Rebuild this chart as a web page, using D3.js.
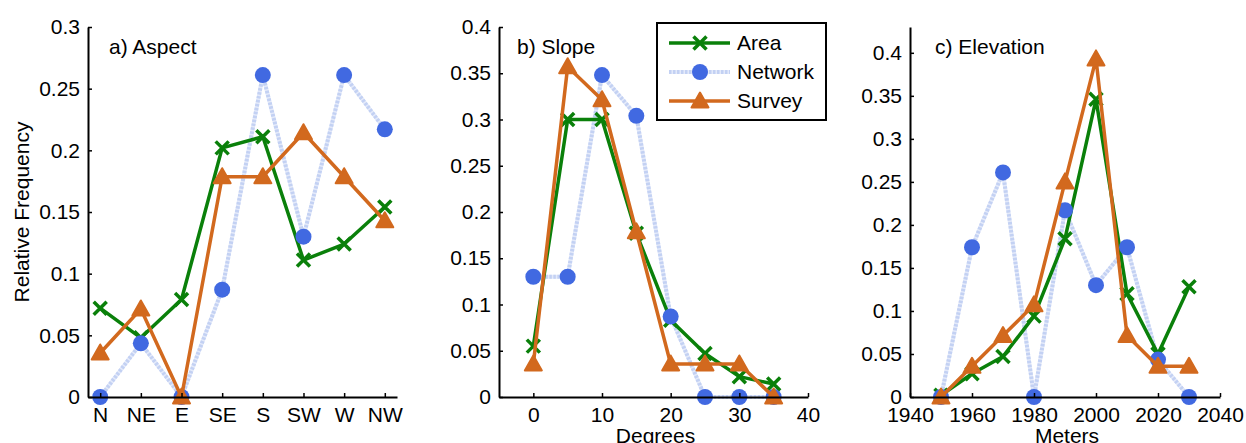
<!DOCTYPE html>
<html>
<head>
<meta charset="utf-8">
<script src="https://cdn.jsdelivr.net/npm/d3@7"></script>
<style>
  html, body { margin: 0; padding: 0; background: #fff; }
  svg { display: block; font-family: "Liberation Sans", Arial, Helvetica, sans-serif; }
</style>
</head>
<body>
<svg id="chart" width="1246" height="443"></svg>
<script>
// ---- Aspect ----
const aspectLabels  = ["N", "NE", "E", "SE", "S", "SW", "W", "NW"];
const aspectArea    = [0.072, 0.048, 0.079, 0.202, 0.211, 0.111, 0.124, 0.154];
const aspectNetwork = [0, 0.0435, 0, 0.087, 0.261, 0.130, 0.261, 0.217];
const aspectSurvey  = [0.0357, 0.0714, 0, 0.1786, 0.1786, 0.2143, 0.1786, 0.1429];
const aspectYTicks  = [0, 0.05, 0.1, 0.15, 0.2, 0.25, 0.3];

// ---- Slope ----
const slopeDegrees  = [0, 5, 10, 15, 20, 25, 30, 35];
const slopeArea     = [0.055, 0.300, 0.300, 0.177, 0.083, 0.047, 0.022, 0.014];
const slopeNetwork  = [0.130, 0.130, 0.348, 0.304, 0.087, 0, 0, 0];
const slopeSurvey   = [0.0357, 0.3571, 0.3214, 0.1786, 0.0357, 0.0357, 0.0357, 0];
const slopeXTicks   = [0, 10, 20, 30, 40];
const slopeYTicks   = [0, 0.05, 0.1, 0.15, 0.2, 0.25, 0.3, 0.35, 0.4];

// ---- Elevation ----
const elevMeters    = [1950, 1960, 1970, 1980, 1990, 2000, 2010, 2020, 2030];
const elevArea      = [0.002, 0.027, 0.047, 0.094, 0.184, 0.346, 0.120, 0.050, 0.128];
const elevNetwork   = [0, 0.174, 0.261, 0, 0.217, 0.130, 0.174, 0.0435, 0];
const elevSurvey    = [0, 0.0357, 0.0714, 0.1071, 0.25, 0.3929, 0.0714, 0.0357, 0.0357];
const elevXTicks    = [1940, 1960, 1980, 2000, 2020, 2040];
const elevYTicks    = [0, 0.05, 0.1, 0.15, 0.2, 0.25, 0.3, 0.35, 0.4];

const seriesNames = ["Area", "Network", "Survey"];

const COLORS = {
  area: "#0a800a", network: "#4169e1",
  networkLine: "#c3d1f3", networkLineBase: "#e4eafa", survey: "#d2691e"
};
const FONT = 21;
const LINE_W = 3.5;

const svg = d3.select("#chart");
svg.append("rect").attr("width", 1246).attr("height", 443).attr("fill", "#fff");

const fmtY = d => d === 0 ? "0" : String(+d.toFixed(2));

// marker shapes
function drawCross(g, x, y) {
  const s = 6.5;
  g.append("path")
    .attr("d", `M${x - s},${y - s}L${x + s},${y + s}M${x - s},${y + s}L${x + s},${y - s}`)
    .attr("stroke", COLORS.area).attr("stroke-width", 3.5).attr("fill", "none");
}
function drawCircle(g, x, y) {
  g.append("circle").attr("cx", x).attr("cy", y).attr("r", 8).attr("fill", COLORS.network);
}
function drawTriangle(g, x, y) {
  g.append("path")
    .attr("d", `M${x},${y - 8.5}L${x + 8.5},${y + 6.5}L${x - 8.5},${y + 6.5}Z`)
    .attr("fill", COLORS.survey).attr("stroke", COLORS.survey)
    .attr("stroke-width", 2).attr("stroke-linejoin", "round");
}
// textured light dashed stroke used for the Network series
function styleNetworkLine(sel, base) {
  if (base) {
    sel.attr("stroke", COLORS.networkLineBase).attr("stroke-width", 4);
  } else {
    sel.attr("stroke", COLORS.networkLine).attr("stroke-width", 4).attr("stroke-dasharray", "2.5,1.5");
  }
}

function panel(opts) {
  const { left, right, top, bottom, xDomain, yDomain, xs, area, network, survey,
          xTicks, xTickFormat, yTicks, title, titleX, xLabel, yLabel } = opts;
  const x = d3.scaleLinear().domain(xDomain).range([left, right]);
  const y = d3.scaleLinear().domain(yDomain).range([bottom, top]);
  const g = svg.append("g");

  const line = d3.line().x((d, i) => x(xs[i])).y(d => y(d));

  // network line underneath
  g.append("path").datum(network).attr("d", line).attr("fill", "none").call(styleNetworkLine, true);
  g.append("path").datum(network).attr("d", line).attr("fill", "none").call(styleNetworkLine, false);
  // area
  g.append("path").datum(area).attr("d", line)
    .attr("fill", "none").attr("stroke", COLORS.area).attr("stroke-width", LINE_W)
    .attr("stroke-linejoin", "round");
  area.forEach((v, i) => drawCross(g, x(xs[i]), y(v)));
  network.forEach((v, i) => drawCircle(g, x(xs[i]), y(v)));
  // survey on top
  g.append("path").datum(survey).attr("d", line)
    .attr("fill", "none").attr("stroke", COLORS.survey).attr("stroke-width", LINE_W)
    .attr("stroke-linejoin", "round");
  survey.forEach((v, i) => drawTriangle(g, x(xs[i]), y(v)));

  // axes
  const xAxis = d3.axisBottom(x).tickValues(xTicks).tickSizeInner(-4).tickSizeOuter(0)
    .tickPadding(10).tickFormat(xTickFormat);
  const yAxis = d3.axisLeft(y).tickValues(yTicks).tickSizeInner(-4).tickSizeOuter(0)
    .tickPadding(8).tickFormat(fmtY);

  const gx = svg.append("g").attr("transform", `translate(0,${bottom})`).call(xAxis);
  const gy = svg.append("g").attr("transform", `translate(${left},0)`).call(yAxis);
  [gx, gy].forEach(a => {
    a.select(".domain").attr("stroke", "#000").attr("stroke-width", 2);
    a.selectAll(".tick line").attr("stroke", "#000").attr("stroke-width", 1.5);
    a.selectAll(".tick text").attr("fill", "#000").attr("font-size", FONT)
      .attr("font-family", "Liberation Sans, Arial, sans-serif");
  });

  svg.append("text").attr("x", titleX).attr("y", 54).attr("font-size", FONT).text(title);

  if (xLabel) {
    svg.append("text").attr("x", (left + right) / 2 + 2).attr("y", 443)
      .attr("text-anchor", "middle").attr("font-size", FONT).text(xLabel);
  }
  if (yLabel) {
    svg.append("text").attr("transform", `translate(29,212) rotate(-90)`)
      .attr("text-anchor", "middle").attr("font-size", FONT).text(yLabel);
  }
}

panel({
  left: 88, right: 397, top: 27, bottom: 397,
  xDomain: [0.7, 8.3], yDomain: [0, 0.3],
  xs: aspectLabels.map((d, i) => i + 1),
  area: aspectArea, network: aspectNetwork, survey: aspectSurvey,
  xTicks: aspectLabels.map((d, i) => i + 1), xTickFormat: d => aspectLabels[d - 1],
  yTicks: aspectYTicks, title: "a) Aspect", titleX: 109, yLabel: "Relative Frequency"
});

panel({
  left: 499, right: 808, top: 27, bottom: 397,
  xDomain: [-5, 40], yDomain: [0, 0.4],
  xs: slopeDegrees,
  area: slopeArea, network: slopeNetwork, survey: slopeSurvey,
  xTicks: slopeXTicks, xTickFormat: d3.format("d"),
  yTicks: slopeYTicks, title: "b) Slope", titleX: 517, xLabel: "Degrees"
});

panel({
  left: 910, right: 1220, top: 27, bottom: 397,
  xDomain: [1940, 2040], yDomain: [0, 0.43],
  xs: elevMeters,
  area: elevArea, network: elevNetwork, survey: elevSurvey,
  xTicks: elevXTicks, xTickFormat: d3.format("d"),
  yTicks: elevYTicks, title: "c) Elevation", titleX: 935, xLabel: "Meters"
});

// legend
const lg = svg.append("g");
lg.append("rect").attr("x", 657).attr("y", 23).attr("width", 169).attr("height", 97)
  .attr("fill", "#fff").attr("stroke", "#000").attr("stroke-width", 2);
const legendY = [43, 72, 101];
const drawers = [drawCross, drawCircle, drawTriangle];
seriesNames.forEach((name, i) => {
  const yy = legendY[i];
  const mk = () => lg.append("line").attr("x1", 669).attr("x2", 730).attr("y1", yy).attr("y2", yy);
  if (i === 1) {
    mk().call(styleNetworkLine, true);
    mk().call(styleNetworkLine, false);
  } else {
    mk().attr("stroke", i === 0 ? COLORS.area : COLORS.survey).attr("stroke-width", LINE_W);
  }
  drawers[i](lg, 700, yy);
  lg.append("text").attr("x", 737).attr("y", yy).attr("dy", "0.35em")
    .attr("font-size", FONT).text(name);
});
</script>
</body>
</html>
